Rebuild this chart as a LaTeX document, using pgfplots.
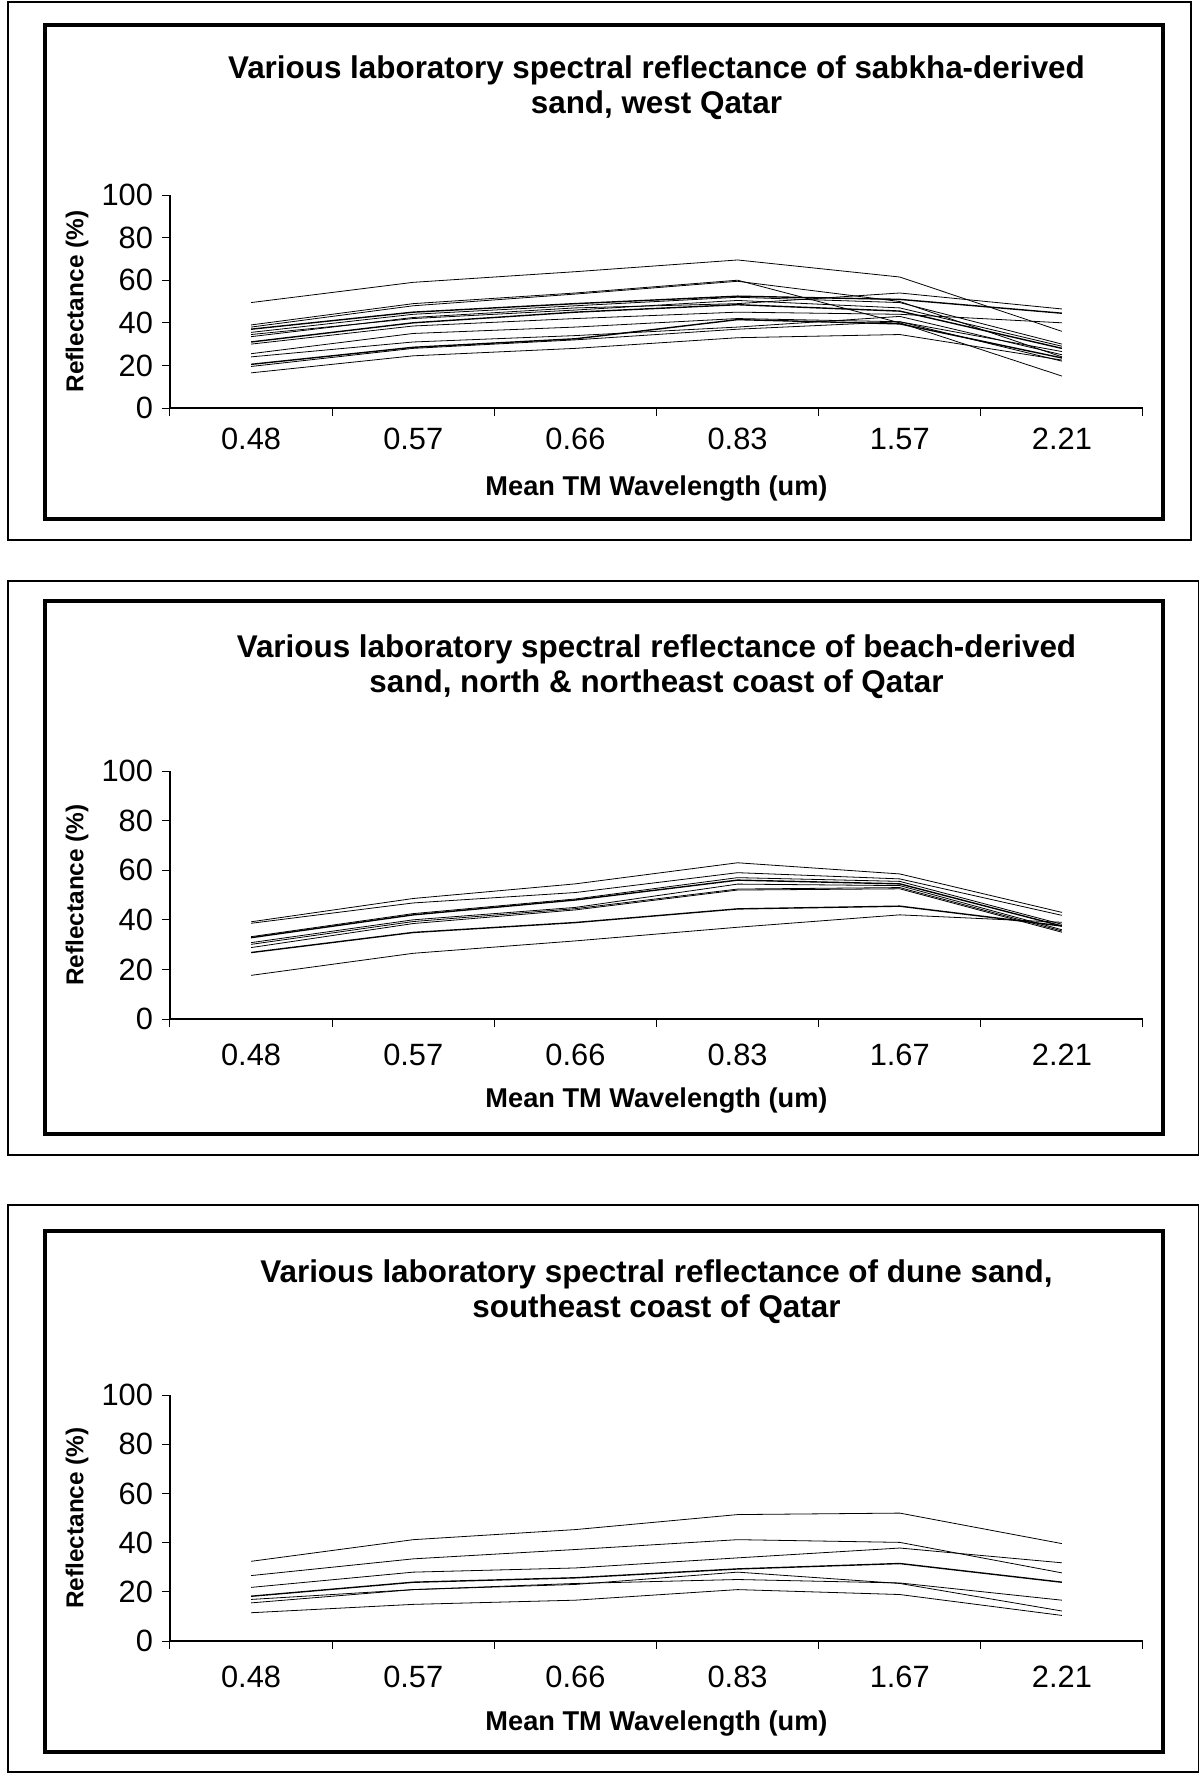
\documentclass[border=0pt]{standalone}
\usepackage{pgfplots}
\pgfplotsset{compat=1.18}
\usepackage{fontspec}
\setmainfont{Liberation Sans}
\pgfplotsset{
  panel/.style={
    scale only axis,
    width=486.5pt,
    xmin=-0.5, xmax=5.5, ymin=0, ymax=100,
    axis x line*=bottom, axis y line*=left,
    axis line style={line width=0.6pt},
    xtick={0,1,2,3,4,5},
    major x tick style={draw=none},
    minor xtick={-0.5,0.5,1.5,2.5,3.5,4.5,5.5},
    minor tick length=4pt,
    xtick pos=bottom, ytick pos=left,
    tick align=outside,
    ytick={0,20,40,60,80,100},
    major tick length=4pt,
    tick style={line width=0.5pt,black},
    ticklabel style={font=\fontsize{15.4}{17}\selectfont},
    /pgf/number format/assume math mode=true,
    xticklabel style={yshift=-5pt},
    yticklabel style={xshift=-1pt},
    ylabel={Reflectance (\%)},
    ylabel style={at={(axis description cs:-0.0956,0.5)}, anchor=center, rotate=0, font=\bfseries\fontsize{12.2}{14}\selectfont},
    xlabel={Mean TM Wavelength (um)},
    xlabel style={anchor=center, font=\bfseries\fontsize{13.6}{15}\selectfont},
    title style={anchor=center, align=center, font=\bfseries\fontsize{15.7}{17.5}\selectfont},
    cycle list={{black, solid, mark=none, line width=0.7pt}},
    clip=false,
  }
}
\begin{document}
\begin{tikzpicture}
\path[use as bounding box] (0pt,0pt) rectangle (599.5pt,-889pt);
% frames
\draw[line width=0.7pt] (4pt,-1pt) rectangle (595.5pt,-270pt);
\draw[line width=2pt] (22.5pt,-12.5pt) rectangle (581.5pt,-259.5pt);
\draw[line width=0.7pt] (4pt,-290.5pt) rectangle (599.5pt,-577.5pt);
\draw[line width=2pt] (22.5pt,-300.5pt) rectangle (581.5pt,-567pt);
\draw[line width=0.7pt] (4pt,-602.5pt) rectangle (599.5pt,-886pt);
\draw[line width=2pt] (22.5pt,-615.5pt) rectangle (581.5pt,-876pt);

% Panel 1
\begin{axis}[panel, height=106.5pt, at={(85pt,-204pt)}, anchor=south west,
  xticklabels={0.48,0.57,0.66,0.83,1.57,2.21},
  xticklabel style={yshift=2.5pt},
  title={Various laboratory spectral reflectance of sabkha-derived\\sand, west Qatar},
  title style={at={(axis description cs:0.5,1.446)}},
  xlabel style={at={(axis description cs:0.5,-0.376)}}]
\addplot coordinates {(0,49.5)(1,59)(2,64)(3,69.5)(4,61.5)(5,36)};
\addplot coordinates {(0,39)(1,49)(2,54)(3,60)(4,40)(5,15)};
\addplot coordinates {(0,38)(1,48)(2,53.5)(3,59.5)(4,50)(5,24)};
\addplot coordinates {(0,37)(1,45)(2,49)(3,52.5)(4,51)(5,44.5)};
\addplot coordinates {(0,35.5)(1,44)(2,48)(3,52)(4,49.5)(5,30)};
\addplot coordinates {(0,34.5)(1,42)(2,46)(3,50.5)(4,47)(5,29)};
\addplot coordinates {(0,33.5)(1,42.5)(2,47)(3,49)(4,54)(5,46.5)};
\addplot coordinates {(0,31)(1,40)(2,45)(3,48.5)(4,45.5)(5,28)};
\addplot coordinates {(0,30)(1,38.5)(2,42)(3,45)(4,44)(5,40)};
\addplot coordinates {(0,25.5)(1,35)(2,38)(3,42)(4,40.5)(5,26.5)};
\addplot coordinates {(0,24)(1,31)(2,34)(3,38)(4,43)(5,25)};
\addplot coordinates {(0,20.5)(1,28.5)(2,32.5)(3,41.5)(4,39.5)(5,23.5)};
\addplot coordinates {(0,19.5)(1,28)(2,32)(3,37)(4,40.5)(5,22)};
\addplot coordinates {(0,16.5)(1,24.5)(2,28)(3,33)(4,34.5)(5,22.5)};
\end{axis}

% Panel 2
\begin{axis}[panel, height=124pt, at={(85pt,-509.5pt)}, anchor=south west,
  xticklabels={0.48,0.57,0.66,0.83,1.67,2.21},
  title={Various laboratory spectral reflectance of beach-derived\\sand, north \& northeast coast of Qatar},
  title style={at={(axis description cs:0.5,1.373)}},
  xlabel style={at={(axis description cs:0.5,-0.327)}}]
\addplot coordinates {(0,39.2)(1,48.6)(2,54.5)(3,63)(4,58.5)(5,43)};
\addplot coordinates {(0,38.6)(1,46.8)(2,51)(3,59)(4,56.5)(5,41.8)};
\addplot coordinates {(0,33.2)(1,42.5)(2,48.4)(3,57)(4,55.5)(5,38.2)};
\addplot coordinates {(0,32.8)(1,42)(2,48)(3,56)(4,54.5)(5,37.5)};
\addplot coordinates {(0,30.8)(1,40)(2,45)(3,54.4)(4,53.8)(5,36)};
\addplot coordinates {(0,30.1)(1,39.3)(2,44.5)(3,52.4)(4,53)(5,35.5)};
\addplot coordinates {(0,28.8)(1,38.5)(2,44)(3,52)(4,52.5)(5,35)};
\addplot coordinates {(0,26.8)(1,34.9)(2,38.9)(3,44.4)(4,45.5)(5,37.5)};
\addplot coordinates {(0,17.6)(1,26.5)(2,31.5)(3,37)(4,42)(5,39)};
\end{axis}

% Panel 3
\begin{axis}[panel, height=123pt, at={(85pt,-820.5pt)}, anchor=south west,
  xticklabels={0.48,0.57,0.66,0.83,1.67,2.21},
  title={Various laboratory spectral reflectance of dune sand,\\southeast coast of Qatar},
  title style={at={(axis description cs:0.5,1.372)}},
  xlabel style={at={(axis description cs:0.5,-0.337)}}]
\addplot coordinates {(0,32.4)(1,41.2)(2,45.3)(3,51.4)(4,52)(5,39.6)};
\addplot coordinates {(0,26.6)(1,33.4)(2,37.2)(3,41.2)(4,40.1)(5,27.7)};
\addplot coordinates {(0,21.8)(1,28)(2,29.7)(3,33.8)(4,37.8)(5,31.8)};
\addplot coordinates {(0,18.2)(1,23.9)(2,25.7)(3,29.3)(4,31.5)(5,23.9)};
\addplot coordinates {(0,16.9)(1,20.9)(2,23)(3,28)(4,23.4)(5,12.2)};
\addplot coordinates {(0,15.5)(1,20.9)(2,23.4)(3,25)(4,23.6)(5,16.6)};
\addplot coordinates {(0,11.5)(1,14.9)(2,16.6)(3,20.9)(4,18.9)(5,10.4)};
\end{axis}
\end{tikzpicture}
\end{document}
